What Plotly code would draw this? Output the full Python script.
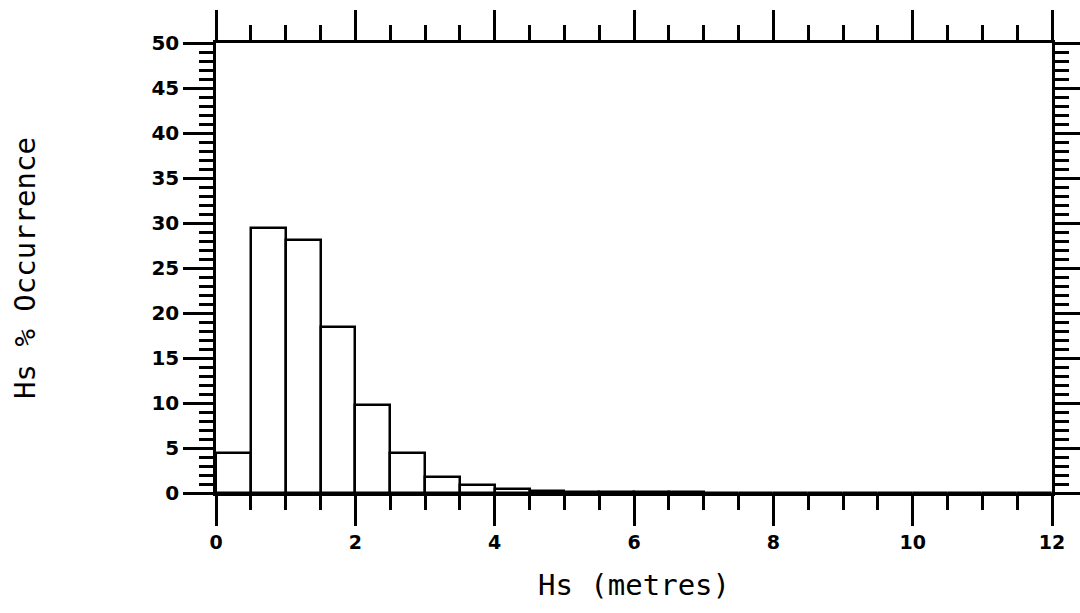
import plotly.graph_objects as go

# Hs bins (left edges, metres) and % occurrence
bin_left = [0.0, 0.5, 1.0, 1.5, 2.0, 2.5, 3.0, 3.5, 4.0, 4.5, 5.0, 5.5,
            6.0, 6.5, 7.0, 7.5, 8.0, 8.5, 9.0, 9.5, 10.0, 10.5, 11.0, 11.5]
occurrence = [4.4, 29.4, 28.1, 18.5, 9.8, 4.5, 1.8, 0.9, 0.5, 0.2, 0.15, 0.1,
              0.08, 0.06, 0.05, 0.04, 0.03, 0.03, 0.02, 0.02, 0.02, 0.02, 0.05, 0.05]
bin_width = 0.5
x_ticks = [0, 2, 4, 6, 8, 10, 12]
y_ticks = [0, 5, 10, 15, 20, 25, 30, 35, 40, 45, 50]

centers = [b + bin_width / 2 for b in bin_left]

fig = go.Figure()
fig.add_trace(go.Bar(
    x=centers, y=occurrence, width=[bin_width] * len(centers),
    marker=dict(color="white", line=dict(color="black", width=2.5)),
    showlegend=False, hoverinfo="skip",
))
# invisible trace for the top/right axes
fig.add_trace(go.Scatter(x=[0, 12], y=[0, 50], xaxis="x2", yaxis="y2",
                         mode="markers", marker=dict(opacity=0),
                         showlegend=False, hoverinfo="skip"))

tickfont = dict(family="DejaVu Sans", size=20, color="black", weight="bold")
titlefont = dict(family="DejaVu Sans Mono", size=29, color="black")

common = dict(showline=True, linecolor="black", linewidth=2.5, showgrid=False,
              zeroline=False, ticks="outside", tickcolor="black", tickwidth=2.5,
              automargin=False)

fig.update_layout(
    width=1080, height=613,
    margin=dict(l=216, r=28, t=43, b=120),
    paper_bgcolor="white", plot_bgcolor="white",
    bargap=0,
    xaxis=dict(range=[0, 12], tickvals=x_ticks, ticklen=30,
               tickfont=dict(tickfont, size=19),
               minor=dict(dtick=0.5, ticklen=14, ticks="outside",
                          tickcolor="black", tickwidth=2.5),
               title=dict(text="Hs (metres)", font=titlefont, standoff=24),
               **common),
    yaxis=dict(range=[0, 50], tickvals=y_ticks, ticklen=30,
               tickfont=tickfont,
               minor=dict(dtick=1, ticklen=14, ticks="outside",
                          tickcolor="black", tickwidth=2.5),
               title=dict(text="Hs % Occurrence", font=titlefont, standoff=108),
               **common),
    xaxis2=dict(range=[0, 12], overlaying="x", side="top", anchor="y",
                tickvals=x_ticks, ticklen=30, showticklabels=False,
                minor=dict(dtick=0.5, ticklen=15, ticks="outside",
                           tickcolor="black", tickwidth=2.5),
                **common),
    yaxis2=dict(range=[0, 50], overlaying="y", side="right", anchor="x",
                tickvals=y_ticks, ticklen=28, showticklabels=False,
                minor=dict(dtick=1, ticklen=14, ticks="outside",
                           tickcolor="black", tickwidth=2.5),
                **common),
)

fig.write_html("out.html")
